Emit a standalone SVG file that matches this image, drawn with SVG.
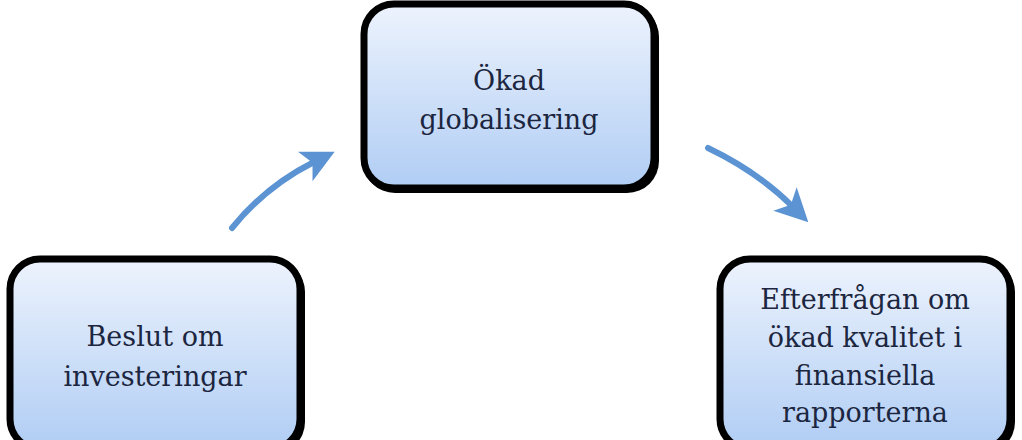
<svg xmlns="http://www.w3.org/2000/svg" width="1022" height="440" viewBox="0 0 1022 440">
<defs>
<linearGradient id="g" x1="0" y1="0" x2="0" y2="1"><stop offset="0" stop-color="#edf3fd"/><stop offset="1" stop-color="#b0cdf4"/></linearGradient>
<marker id="ah" viewBox="0 0 10 10" refX="3" refY="5" markerWidth="5.5" markerHeight="5.5" orient="auto" markerUnits="strokeWidth"><path d="M0,0 L10,5 L0,10 L2.5,5 z" fill="#5b93d3"/></marker>
<style>
.box{fill:url(#g);stroke:#000;stroke-width:7}
.sh{fill:#000}
.t{font-family:"DejaVu Serif","Liberation Serif",serif;font-size:27px;fill:#1c2640;text-anchor:middle}
.c{fill:none;stroke:#5b93d3;stroke-width:6;stroke-linecap:round}
</style>
</defs>
<rect width="1022" height="440" fill="#fff"/>
<g id="connectors">
<path class="c" d="M232,228 Q266,186 314,162" marker-end="url(#ah)"/>
<path class="c" d="M708,148 Q758,172 792,206" marker-end="url(#ah)"/>
</g>
<g id="n1"><rect class="sh" x="363" y="5" width="296" height="188" rx="32"/><rect class="box" x="364" y="4" width="290" height="184" rx="30"/>
<text class="t" x="509" y="90">Ökad</text><text class="t" x="509" y="129">globalisering</text></g>
<g id="n2"><rect class="sh" x="9" y="260" width="296" height="194" rx="32"/><rect class="box" x="10" y="259" width="290" height="190" rx="30"/>
<text class="t" x="155" y="346">Beslut om</text><text class="t" x="155" y="386">investeringar</text></g>
<g id="n3"><rect class="sh" x="719" y="260" width="296" height="194" rx="32"/><rect class="box" x="720" y="259" width="290" height="190" rx="30"/>
<text class="t" x="865" y="309">Efterfrågan om</text><text class="t" x="865" y="347">ökad kvalitet i</text><text class="t" x="865" y="385">finansiella</text><text class="t" x="865" y="422">rapporterna</text></g>
</svg>
